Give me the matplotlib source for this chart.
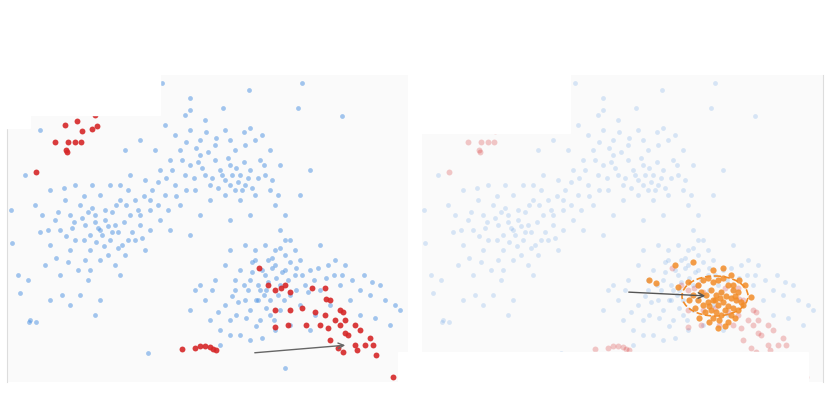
import matplotlib
matplotlib.use("Agg")
import matplotlib.pyplot as plt
from matplotlib.patches import Rectangle, Ellipse

blue_pts = [(60,230),(70,215),(75,240),(80,205),(85,225),(90,250),(95,215),(100,230),(105,210),(110,240),(115,225),(120,200),(125,255),(100,195),(90,235),(85,260),(70,250),(65,200),(55,220),(50,245),(45,265),(105,220),(98,228),(102,235),(108,226),(95,222),(112,212),(118,232),(130,215),(135,240),(140,225),(128,190),(122,245),(115,265),(78,270),(88,280),(60,275),(40,232),(35,205),(50,190),(75,185),(92,185),(110,185),(135,200),(145,250),(150,230),(80,295),(100,300),(120,275),(62,295),(28,280),(18,275),(30,320),(50,300),(95,315),(70,305),(108,255),(72,228),(82,218),(92,208),
(160,170),(170,160),(175,185),(180,150),(185,175),(190,165),(195,190),(200,155),(205,175),(210,185),(215,160),(220,170),(225,180),(230,165),(235,190),(240,175),(245,185),(250,170),(255,195),(260,160),(235,150),(215,145),(200,140),(190,130),(175,135),(245,145),(255,140),(265,175),(270,190),(275,205),(210,200),(225,195),(240,200),(180,205),(165,195),(150,200),(145,180),(155,150),(165,125),(185,115),(205,120),(225,130),(250,128),(262,135),(270,150),(280,165),(230,185),(238,182),(242,190),(222,175),(212,178),(198,162),(172,170),(182,160),(150,210),(160,220),(140,215),(130,175),(120,185),(285,215),(290,240),(280,230),(250,215),(200,215),(190,235),(170,230),(230,220),
(240,270),(250,280),(255,260),(260,290),(265,275),(270,300),(275,265),(280,285),(285,270),(290,295),(245,300),(235,290),(225,305),(230,320),(250,310),(260,320),(270,315),(280,310),(295,275),(300,260),(305,285),(310,270),(320,290),(255,250),(265,245),(275,250),(285,255),(215,280),(205,300),(210,320),(190,310),(195,290),(240,335),(220,345),(250,340),(300,305),(315,315),(330,305),(340,285),(345,265),(290,325),(275,330),(262,270),(268,282),(272,268),(258,285),(278,295),(288,280),(225,265),(230,250),(245,245),(350,300),(360,290),(370,295),(380,285),(385,300),(395,305),(400,310),(390,325),(375,318),(360,315),(235,280),(248,290),(285,240),(295,250),
(162,83),(249,90),(302,83),(190,98),(223,108),(190,110),(342,116),(298,108),(148,353),(11,210),(12,243),(20,293),(29,322),(36,322),(285,368),(310,330),(40,130),(25,175),(140,140),(125,150),(300,195),(310,170),(320,245),(335,260),
(58,212),(66,236),(74,222),(84,240),(88,212),(96,242),(104,246),(112,232),(116,205),(124,222),(132,232),(138,210),(144,196),(152,190),(158,182),(166,178),(176,196),(186,190),(194,178),(202,168),(208,152),(218,188),(228,158),(232,175),(236,168),(244,162),(248,178),(252,188),(258,178),(264,165),(196,148),(186,142),(206,132),(216,138),(244,132),(230,140),(272,180),(278,195),(168,210),(158,205),(142,238),(128,240),(118,248),(100,260),(90,270),(68,262),(56,258),(48,230),(42,215),(64,188),(84,196),(126,205),
(244,285),(252,272),(258,300),(264,295),(268,260),(276,278),(282,272),(290,262),(296,290),(302,275),(308,292),(314,280),(318,268),(326,278),(334,275),(238,302),(232,296),(246,318),(256,326),(266,308),(274,320),(284,300),(262,338),(230,335),(218,312),(212,290),(200,285),(252,262),(272,258),(280,248),(296,268),(328,265),(342,275),(352,280),(364,275),(372,282),(220,330),(236,315),(256,300),(266,290)]
blue_x = [p[0] for p in blue_pts]
blue_y = [p[1] for p in blue_pts]

red_pts = [(65,125),(77,121),(82,131),(97,126),(92,129),(55,142),(68,142),(75,142),(81,142),(66,150),(67,152),(36,172),(95,115),
(259,268),(268,285),(275,290),(281,288),(285,285),(290,292),(312,288),(325,288),(326,299),(290,310),(302,308),(315,312),(325,315),(340,310),(343,312),(330,300),(335,320),(340,325),(345,320),(355,325),(360,330),(345,333),(348,335),(355,345),(365,345),(370,338),(373,345),(376,355),(357,350),(338,348),(343,352),(330,340),(288,325),(275,327),(182,349),(195,348),(200,346),(205,346),(210,347),(213,349),(216,350),(393,377),(275,310),(306,325),(320,325),(328,328)]
red_x = [p[0] for p in red_pts]
red_y = [p[1] for p in red_pts]

orange_pts = [(236,280),(243,283),(262,265),(280,262),(265,287),(338,297),(322,296),(275,282),(285,285),(290,280),(295,278),(300,282),(305,280),(310,278),(315,285),(320,290),(325,292),(288,292),(293,295),(298,290),(303,295),(308,292),(313,296),(318,298),(323,300),(328,302),(285,300),(290,305),(295,302),(300,300),(305,305),(310,302),(315,306),(320,308),(325,310),(330,305),(282,308),(292,312),(298,310),(303,312),(308,315),(312,310),(318,315),(322,318),(300,318),(306,320),(296,322),(315,322),(280,295),(276,300),(300,270),(310,268),(318,275),(326,280),(332,285),(286,318),(312,326),(305,328),(320,285),(302,300),(296,306),(307,298)]
orange_x = [p[0] for p in orange_pts]
orange_y = [p[1] for p in orange_pts]

W, H = 830, 400
fig = plt.figure(figsize=(8.3, 4.0), dpi=100)
fig.patch.set_facecolor("white")

def make_ax(px0, px1, off):
    ax = fig.add_axes([px0 / W, (H - 382) / H, (px1 - px0) / W, 307 / H])
    ax.set_xlim(px0 - off, px1 - off)
    ax.set_ylim(382, 75)
    ax.set_facecolor("#fafafa")
    ax.set_xticks([]); ax.set_yticks([])
    for s in ax.spines.values():
        s.set_visible(False)
    return ax

blue = "#4a90e2"; red = "#d62728"; orange = "#f28c28"

ax1 = make_ax(7, 408, 0)
ax1.spines["left"].set_visible(True); ax1.spines["left"].set_color("#dddddd")
ax1.scatter(blue_x, blue_y, s=12, color=blue, alpha=0.5, lw=0)
ax1.scatter(red_x, red_y, s=18, color=red, alpha=0.9, lw=0)
ax1.annotate("", xy=(348, 345), xytext=(252, 353),
             arrowprops=dict(arrowstyle="->", color="#666666", lw=1))

ax2 = make_ax(422, 823, 413)
ax2.spines["right"].set_visible(True); ax2.spines["right"].set_color("#dddddd")
ax2.scatter(blue_x, blue_y, s=12, color=blue, alpha=0.2, lw=0)
ax2.scatter(red_x, red_y, s=18, color=red, alpha=0.25, lw=0)
ax2.scatter(orange_x, orange_y, s=20, color=orange, alpha=0.85, lw=0)
ax2.add_patch(Ellipse((302, 296), 66, 40, fill=False, ls="--", ec=orange, lw=1.2))
ax2.annotate("", xy=(295, 296), xytext=(213, 292),
             arrowprops=dict(arrowstyle="->", color="#555555", lw=1))

for (x, y, w, h) in [(0, 60, 30, 68), (30, 60, 130, 55), (415, 60, 155, 73), (398, 352, 410, 40)]:
    fig.patches.append(Rectangle((x / W, (H - y - h) / H), w / W, h / H,
                                 transform=fig.transFigure, color="white", zorder=10))

fig.savefig("out.png", dpi=100)
